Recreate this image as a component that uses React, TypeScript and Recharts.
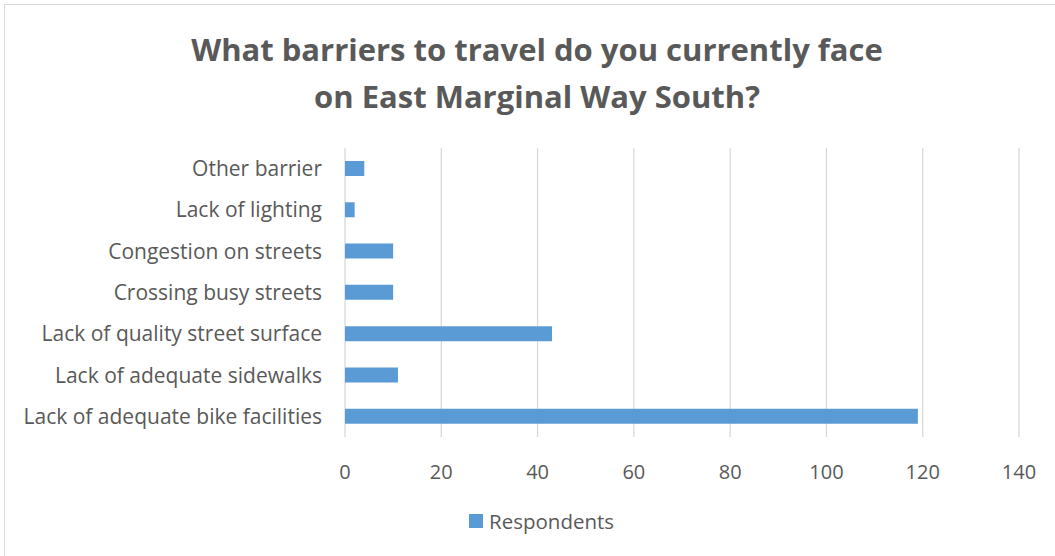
import React from "react";
import { BarChart, Bar, XAxis, YAxis, CartesianGrid } from "recharts";

const categories = [
  "Other barrier",
  "Lack of lighting",
  "Congestion on streets",
  "Crossing busy streets",
  "Lack of quality street surface",
  "Lack of adequate sidewalks",
  "Lack of adequate bike facilities",
];
const respondents = [4, 2, 10, 10, 43, 11, 119];
const xTicks = [0, 20, 40, 60, 80, 100, 120, 140];
const titleLines = ["What barriers to travel do you currently face", "on East Marginal Way South?"];
const seriesName = "Respondents";

const data = categories.map((c, i) => ({ name: c, value: respondents[i] }));

const FONT = "'Open Sans', 'Noto Sans', sans-serif";
const TEXT = "#595959";
const BAR = "#5b9bd5";

export default function App() {
  return (
    <div style={{ position: "absolute", left: 0, top: 0, width: 1055, height: 556, background: "#fff", overflow: "hidden", fontFamily: FONT }}>
      <div style={{ position: "absolute", left: 4, top: 4, width: 1100, height: 600, border: "1px solid #d9d9d9", boxSizing: "border-box" }} />
      <div style={{ position: "absolute", left: 0, top: 26, width: 1074, textAlign: "center", color: TEXT, fontWeight: 700, fontSize: 31, lineHeight: "47px" }}>
        {titleLines.map((t) => (
          <div key={t}>{t}</div>
        ))}
      </div>
      <div style={{ position: "absolute", left: 0, top: 0 }}>
        <BarChart
          width={1055}
          height={556}
          data={data}
          layout="vertical"
          margin={{ top: 148, right: 36, bottom: 119 - 40, left: 0 }}
        >
          <CartesianGrid horizontal={false} vertical={true} stroke="#d9d9d9" strokeWidth={1.3} />
          <XAxis
            type="number"
            domain={[0, 140]}
            ticks={xTicks}
            interval={0}
            axisLine={false}
            tickLine={false}
            height={40}
            tickMargin={22}
            tick={{ fontSize: 20, fill: TEXT, fontFamily: FONT }}
          />
          <YAxis
            type="category"
            dataKey="name"
            width={345}
            axisLine={false}
            tickLine={false}
            tickSize={0}
            tickMargin={23}
            interval={0}
            tick={{ fontSize: 21, fill: TEXT, fontFamily: FONT }}
          />
          <Bar dataKey="value" name={seriesName} fill={BAR} barSize={15} isAnimationActive={false} />
        </BarChart>
      </div>
      <div style={{ position: "absolute", left: 469, top: 507, display: "flex", alignItems: "center", color: TEXT, fontSize: 20.5 }}>
        <span style={{ display: "inline-block", width: 14, height: 14, background: BAR, marginRight: 6 }} />
        <span>{seriesName}</span>
      </div>
    </div>
  );
}
